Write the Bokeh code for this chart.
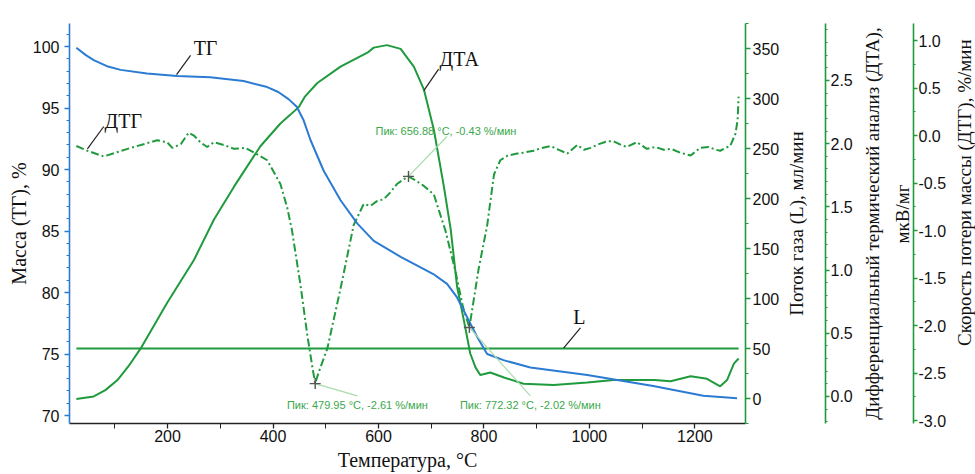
import math
from bokeh.plotting import figure
from bokeh.layouts import row
from bokeh.models import Range1d, LinearAxis, FixedTicker, NumeralTickFormatter
from bokeh.embed import file_html
from bokeh.resources import INLINE
from bokeh.core.properties import value

# ---------------- data ----------------
temp_tg = [27, 45, 60, 85, 111, 161, 218, 281, 344, 389, 410, 430, 445, 458, 471, 496, 528, 560, 591,
           642, 704, 730, 749, 768, 787, 806, 837, 888, 996, 1121, 1216, 1280]
mass_tg = [99.9, 99.3, 98.9, 98.4, 98.1, 97.8, 97.6, 97.5, 97.2, 96.7, 96.3, 95.7, 95.1, 94.0, 92.4, 89.9,
           87.5, 85.6, 84.2, 82.9, 81.5, 80.7, 79.6, 78.0, 76.4, 75.0, 74.5, 73.9, 73.3, 72.4, 71.6, 71.4]

temp_dta = [27, 60, 82, 105, 127, 149, 174, 199, 250, 288, 326, 376, 414, 433, 449, 460, 484, 528,
            579, 591, 616, 642, 667, 686, 705, 724, 737, 749, 762, 774, 784, 793, 812, 838, 875,
            932, 996, 1046, 1123, 1154, 1192, 1223, 1248, 1261, 1274, 1283]
dta = [-0.02, 0.0, 0.05, 0.13, 0.245, 0.38, 0.56, 0.74, 1.08, 1.40, 1.66, 1.98, 2.16, 2.23, 2.29, 2.37, 2.48, 2.61,
       2.72, 2.76, 2.78, 2.75, 2.61, 2.43, 2.11, 1.66, 1.32, 0.87, 0.60, 0.34, 0.23, 0.17, 0.19, 0.15, 0.10,
       0.09, 0.11, 0.13, 0.13, 0.12, 0.16, 0.14, 0.08, 0.13, 0.26, 0.30]

temp_dtg = [27, 48, 79, 124, 180, 199, 209, 225, 240, 250, 262, 275, 288, 307, 326, 348, 364, 389,
            414, 427, 436, 452, 465, 475, 479.95, 486, 503, 528, 553, 572, 585, 597, 610, 622, 635,
            645, 656.88, 670, 686, 705, 717, 727, 746, 760, 772.32, 780, 790, 806, 812, 819, 831,
            845, 863, 875, 894, 910, 926, 942, 958, 977, 990, 1002, 1018, 1034, 1046, 1060, 1071,
            1090, 1109, 1125, 1141, 1155, 1172, 1192, 1210, 1226, 1240, 1248, 1258, 1267, 1277,
            1281, 1283]
dtg = [-0.11, -0.16, -0.22, -0.14, -0.05, -0.07, -0.13, -0.09, 0.03, 0.0, -0.07, -0.12, -0.07, -0.10,
       -0.14, -0.13, -0.18, -0.26, -0.51, -0.76, -1.0, -1.57, -2.10, -2.45, -2.61, -2.50, -2.24, -1.61,
       -0.94, -0.72, -0.74, -0.69, -0.67, -0.60, -0.51, -0.47, -0.43, -0.47, -0.53, -0.62, -0.83, -1.0,
       -1.43, -1.80, -2.02, -1.75, -1.40, -0.95, -0.70, -0.41, -0.26, -0.21, -0.19, -0.18, -0.16, -0.13,
       -0.11, -0.15, -0.19, -0.10, -0.15, -0.13, -0.09, -0.06, -0.06, -0.10, -0.12, -0.07, -0.14, -0.12,
       -0.15, -0.14, -0.18, -0.21, -0.13, -0.12, -0.15, -0.16, -0.13, -0.11, 0.02, 0.16, 0.41]

temp_L = [27, 1283]
flow_L = [50, 50]

peak_temp = [479.95, 772.32, 656.88]
peak_dtg = [-2.61, -2.02, -0.43]
peak_text = [f"Пик: {t:.2f} °C, {v:.2f} %/мин" for t, v in zip(peak_temp, peak_dtg)]

x_ticks = [200, 400, 600, 800, 1000, 1200]
x_minor = [100, 300, 500, 700, 900, 1100, 1300]
mass_ticks = [70, 75, 80, 85, 90, 95, 100]
L_ticks = [0, 50, 100, 150, 200, 250, 300, 350]
dta_ticks = [0.0, 0.5, 1.0, 1.5, 2.0, 2.5]
dtg_ticks = [-3.0, -2.5, -2.0, -1.5, -1.0, -0.5, 0.0, 0.5, 1.0]

title_L = "Поток газа (L), мл/мин"
title_DTA = "Дифференциальный термический анализ (ДТА),\n" + "\u00a0" * 4 + "мкВ/мг"
title_DTG = "\u00a0" * 13 + "Скорость потери массы (ДТГ), %/мин"

# ---------------- layout (not data) ----------------
H = 474
X0, X1 = 14, 1296
MASS_R = (69.35, 101.87)
L_R = (-25, 375)
DTA_R = (-0.214, 2.951)
DTG_R = (-3.03, 1.179)
FRAME_T, FRAME_B = 23, 423          # shared vertical frame of all axes

peak_lbl_x = [560, 888, 728]
peak_lbl_y = [-2.84, -2.84, 0.05]
peak_lead_x = [560, 888, 730]
peak_lead_y = [-2.74, -2.74, -0.01]

BLUE = "#2b7bd3"
GREEN = "#1f9a3d"
PEAK_GREEN = "#3aa84b"
LEAD_GREEN = "#a8dcab"
TXT = "#111111"


def style_axis(ax, color, tick_out=5, minor_out=3):
    ax.axis_line_color = color
    ax.axis_line_width = 1.6
    ax.major_tick_line_color = color
    ax.minor_tick_line_color = color
    ax.major_tick_line_width = 1.3
    ax.minor_tick_line_width = 1.0
    ax.major_tick_in = 0
    ax.minor_tick_in = 0
    ax.major_tick_out = tick_out
    ax.minor_tick_out = minor_out
    ax.major_label_text_font = "Liberation Sans"
    ax.major_label_text_font_size = "16px"
    ax.major_label_text_color = TXT
    ax.axis_label_text_font = "Liberation Serif"
    ax.axis_label_text_font_size = "20px"
    ax.axis_label_text_font_style = "normal"
    ax.axis_label_text_color = TXT


def bare(fig):
    fig.outline_line_color = None
    fig.xgrid.visible = False
    fig.ygrid.visible = False
    fig.background_fill_color = "white"
    fig.border_fill_color = "white"


def title_axis(text, font_size, line_height=1.2):
    """An invisible left axis that only carries a title reading bottom-to-top."""
    ax = LinearAxis(ticker=FixedTicker(ticks=[0.5]), axis_line_color=None,
                    major_tick_line_color=None, minor_tick_line_color=None,
                    major_tick_out=0, major_tick_in=0, minor_tick_out=0, minor_tick_in=0,
                    major_label_text_font_size="1px", major_label_text_color=None,
                    major_label_standoff=0)
    ax.axis_label = text
    ax.axis_label_standoff = 0
    ax.axis_label_text_font = "Liberation Serif"
    ax.axis_label_text_font_size = font_size
    ax.axis_label_text_font_style = "normal"
    ax.axis_label_text_color = TXT
    ax.axis_label_text_line_height = line_height
    return ax


def strip(width, left, right, yr):
    f = figure(width=width, height=H, output_backend="svg", toolbar_location=None, title=None,
               x_range=Range1d(0, 1), y_range=Range1d(*yr),
               x_axis_location=None, y_axis_location="right" if right > 0 else None,
               min_border_left=left, min_border_right=right,
               min_border_top=FRAME_T, min_border_bottom=H - FRAME_B)
    bare(f)
    return f


# ================= main plot =================
p = figure(width=782, height=H, output_backend="svg", toolbar_location=None, title=None,
           x_range=Range1d(X0, X1), y_range=Range1d(*MASS_R),
           min_border_left=69, min_border_right=37, min_border_top=FRAME_T, min_border_bottom=H - FRAME_B)
bare(p)
p.extra_y_ranges = {"L": Range1d(*L_R), "DTA": Range1d(*DTA_R), "DTG": Range1d(*DTG_R)}

xa = p.xaxis[0]
xa.ticker = FixedTicker(ticks=x_ticks, minor_ticks=x_minor)
style_axis(xa, "#222222", 5, 5)
xa.major_label_standoff = 1
xa.axis_label = "Температура, °C"
xa.axis_label_standoff = 4

ya = p.yaxis[0]
ya.ticker = FixedTicker(ticks=mass_ticks, minor_ticks=list(range(70, 102)))
style_axis(ya, BLUE, 5, 3)
ya.major_label_standoff = 5
ya.axis_label = "Масса (ТГ), %"
ya.axis_label_standoff = 0

axL = LinearAxis(y_range_name="L", ticker=FixedTicker(ticks=L_ticks, minor_ticks=list(range(-25, 376, 25))))
style_axis(axL, GREEN, 5, 3)
axL.major_label_standoff = 2
p.add_layout(axL, "right")

p.line(temp_L, flow_L, color=GREEN, line_width=2, y_range_name="L")
p.line(temp_dta, dta, color=GREEN, line_width=2, y_range_name="DTA")
p.line(temp_dtg, dtg, color=GREEN, line_width=2, line_dash="8 3 2 3", y_range_name="DTG")
p.line(temp_tg, mass_tg, color=BLUE, line_width=2)

p.segment(x0=peak_temp, y0=peak_dtg, x1=peak_lead_x, y1=peak_lead_y, color=LEAD_GREEN,
          line_width=1.2, y_range_name="DTG")
p.scatter(peak_temp, peak_dtg, marker="cross", size=11, line_color="#555555", line_width=1.4,
          y_range_name="DTG")
p.text(x=peak_lbl_x, y=peak_lbl_y, text=peak_text, text_color=PEAK_GREEN,
       text_font=value("Liberation Sans"), text_font_size="11px", text_align="center",
       text_baseline="middle", y_range_name="DTG")

name_font = dict(text_font=value("Liberation Serif"), text_font_size="20px", text_color=TXT,
                 text_align="center", text_baseline="middle")
p.segment(x0=[217], y0=[97.72], x1=[243.6], y1=[99.27], color="#222222", line_width=1.2)
p.text(x=[272], y=[99.84], text=["ТГ"], **name_font)
p.segment(x0=[48], y0=[-0.14], x1=[79], y1=[0.095], color="#222222", line_width=1.2, y_range_name="DTG")
p.text(x=[116], y=[0.158], text=["ДТГ"], y_range_name="DTG", **name_font)
p.segment(x0=[686], y0=[2.42], x1=[714], y1=[2.59], color="#222222", line_width=1.2, y_range_name="DTA")
p.text(x=[753], y=[2.67], text=["ДТА"], y_range_name="DTA", **name_font)
p.segment(x0=[951], y0=[50.3], x1=[983], y1=[70.7], color="#222222", line_width=1.2, y_range_name="L")
p.text(x=[981], y=[81.3], text=["L"], y_range_name="L", **name_font)

# ================= strip B: L title + DTA axis (page x 782..855) =================
pb = strip(73, 24, 28, DTA_R)
pb.add_layout(title_axis(title_L, "19px"), "left")
axD = [a for a in pb.right][0]
axD.ticker = FixedTicker(ticks=dta_ticks, minor_ticks=[round(i * 0.1, 2) for i in range(-2, 30)])
axD.formatter = NumeralTickFormatter(format="0.0")
style_axis(axD, GREEN, 4, 2)
axD.major_label_standoff = 1

# ================= strip C: DTA title + DTG axis (page x 855..949) =================
pc = strip(94, 57, 33, DTG_R)
pc.add_layout(title_axis(title_DTA, "19px", 1.42), "left")
axG = [a for a in pc.right][0]
axG.ticker = FixedTicker(ticks=dtg_ticks, minor_ticks=[round(-3.0 + i * 0.25, 2) for i in range(0, 18)])
axG.formatter = NumeralTickFormatter(format="0.0")
style_axis(axG, GREEN, 4, 2)
axG.major_label_standoff = 1

# ================= strip D: DTG title (page x 949..975) =================
pd_ = strip(26, 25, 0, DTG_R)
pd_.add_layout(title_axis(title_DTG, "19px"), "left")

layout = row(p, pb, pc, pd_, spacing=0)
open("out.html", "w").write(file_html(layout, INLINE))
